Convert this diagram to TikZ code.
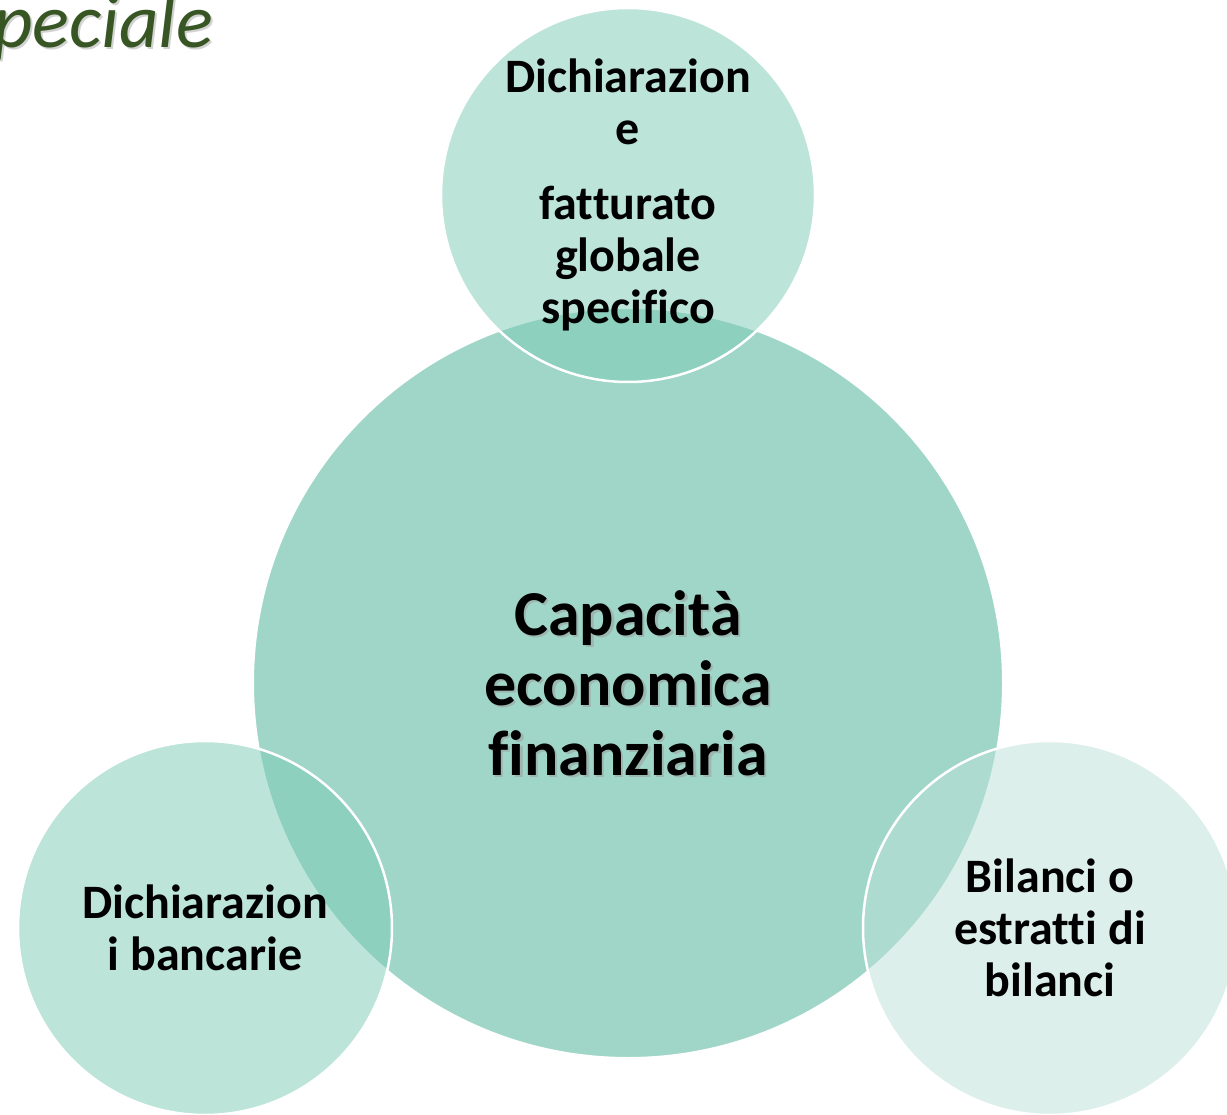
\documentclass[tikz,border=0pt]{standalone}
\usepackage{fontspec}
\setmainfont[Ligatures={NoCommon}]{Carlito}
\definecolor{bigfill}{HTML}{A0D6C8}
\definecolor{smallfill}{HTML}{7BCBB5}
\definecolor{palefill}{HTML}{BDE1D7}
\definecolor{titlegreen}{HTML}{375623}
\begin{document}
\begin{tikzpicture}[x=1pt,y=-1pt,
  bigc/.style={circle, fill=bigfill, draw=white, line width=2pt, minimum size=750pt, inner sep=0pt},
  bigtext/.style={align=center, font=\fontsize{64}{70}\selectfont\bfseries},
  smallc/.style={circle, draw=white, line width=2.5pt, minimum size=374pt, inner sep=0pt,
     fill opacity=0.5, text opacity=1, align=center, font=\fontsize{48}{52}\selectfont\bfseries},
  shadowtext/.style={text=black!40, text opacity=0.5},
  titletext/.style={anchor=base west, inner sep=0pt, font=\fontsize{77}{80}\selectfont\itshape}
]
\useasboundingbox (0,0) rectangle (1227,1115);
\fill[white] (0,0) rectangle (1227,1115);
% title
\node[titletext, text=black!35, text opacity=0.5] (titleshadow) at (-5,50) {peciale};
\node[titletext, text=titlegreen] (title) at (-7,48) {peciale};
% big circle
\node[bigc] (big) at (628,683) {};
\node[bigtext, shadowtext] (bigshadow) at (630.5,685.5) {Capacità\\economica\\finanziaria};
\node[bigtext] (bigtxt) at (628,683) {Capacità\\economica\\finanziaria};
% small circles
\node[smallc, fill=smallfill] (top) at (628,195) {Dichiarazion\\e\\[23pt]fatturato\\globale\\specifico};
\node[smallc, fill=smallfill] (left) at (205,928) {Dichiarazion\\i bancarie};
\node[smallc, fill=palefill] (right) at (1050,928) {Bilanci o\\estratti di\\bilanci};
\end{tikzpicture}
\end{document}
